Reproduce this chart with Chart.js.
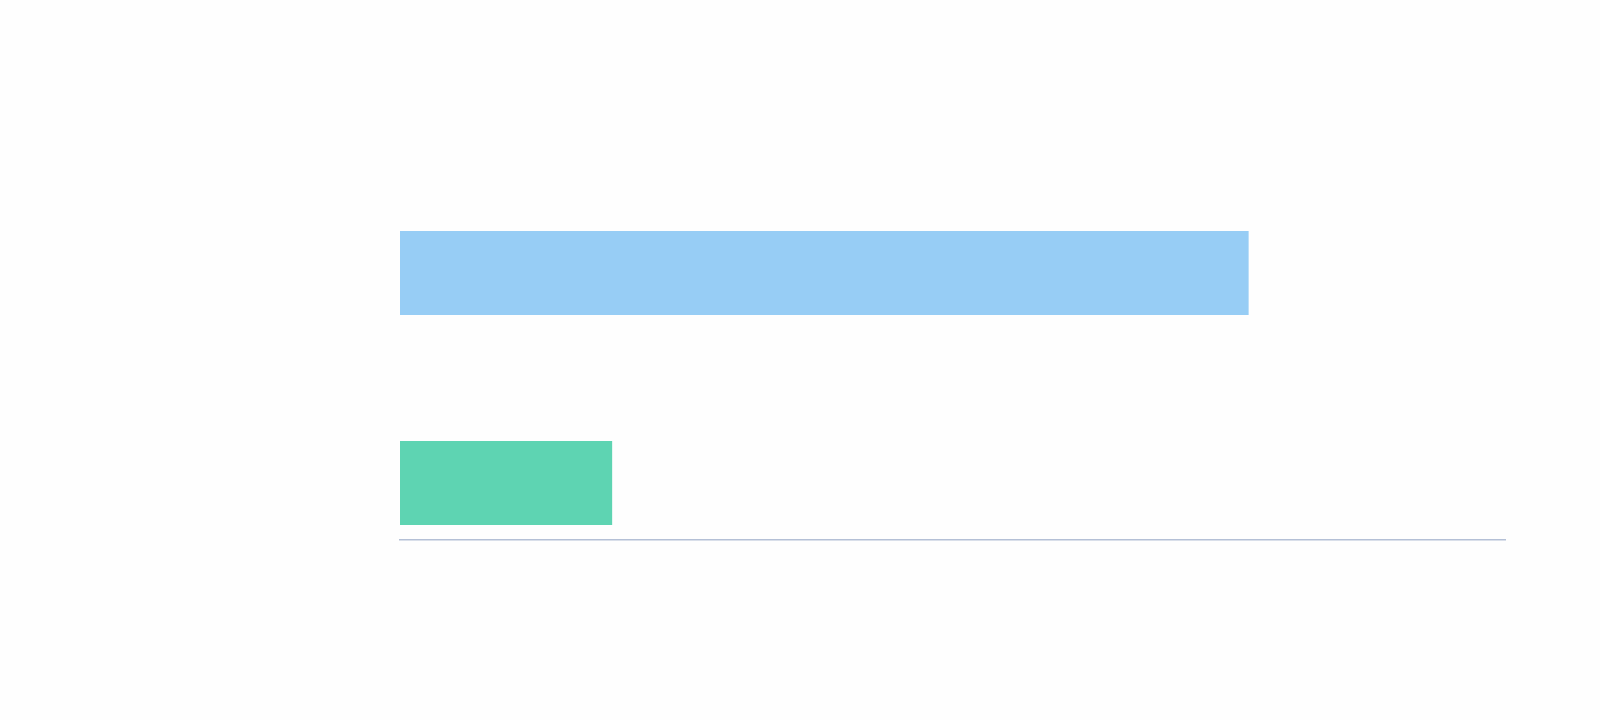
<!DOCTYPE html>
<html>
<head>
<meta charset="utf-8">
<script src="https://cdn.jsdelivr.net/npm/chart.js@4"></script>
<style>
  html, body { margin: 0; padding: 0; background: #fefefe; }
  #wrap { width: 1600px; height: 720px; }
</style>
</head>
<body>
<div id="wrap"><canvas id="myChart" width="1600" height="720"></canvas></div>
<script>
// categories and values (no text shown in the picture)
const categories = ["A", "B"];
const values = [76.8, 19.2];
const barColors = ["#97cdf5", "#5ed4b2"];
const xMin = 0;
const xMax = 100;

const ctx = document.getElementById("myChart");

new Chart(ctx, {
  type: "bar",
  data: {
    labels: categories,
    datasets: [
      {
        data: values,
        backgroundColor: barColors,
        borderWidth: 0,
        categoryPercentage: 0.8,
        barPercentage: 0.5,
      },
    ],
  },
  options: {
    indexAxis: "y",
    responsive: false,
    animation: false,
    layout: {
      padding: { left: 400, right: 95, top: 168, bottom: 132 },
    },
    plugins: {
      legend: { display: false },
      tooltip: { enabled: false },
    },
    scales: {
      y: {
        display: false,
      },
      x: {
        min: xMin,
        max: xMax,
        position: { y: 1.272 },
        grid: { display: false, drawTicks: false },
        ticks: { display: false },
        border: { display: true, color: "#b4c0d6", width: 1.5 },
      },
    },
  },
});
</script>
</body>
</html>
